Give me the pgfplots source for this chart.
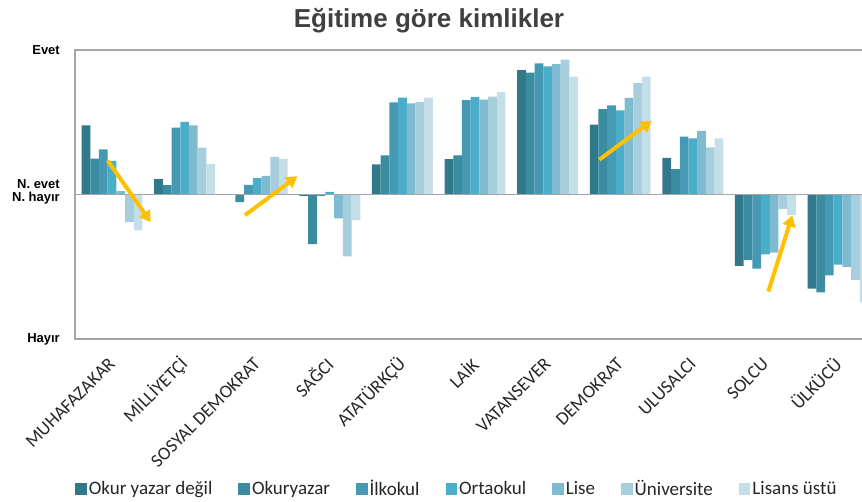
\documentclass[border=0pt]{standalone}
\usepackage{fontspec}
\setmainfont{Carlito}
\newfontfamily\lsans{Liberation Sans}
\usepackage{pgfplots}
\pgfplotsset{compat=1.18}
\usepackage{pgfplotstable}
\usetikzlibrary{arrows.meta}

\definecolor{c1}{HTML}{31788B}
\definecolor{c2}{HTML}{3B8BA1}
\definecolor{c3}{HTML}{4599B3}
\definecolor{c4}{HTML}{4BAEC8}
\definecolor{c5}{HTML}{7FBBD0}
\definecolor{c6}{HTML}{A6CEDD}
\definecolor{c7}{HTML}{C5DFE9}
\definecolor{axisgray}{HTML}{A6A6A6}
\definecolor{titlegray}{HTML}{404040}
\definecolor{txt}{HTML}{262626}
\definecolor{arrowc}{HTML}{FFC000}

% category index, then the seven education groups
\pgfplotstableread{
x  a      b      c      d      e      f      g
0  0.478  0.248  0.313  0.232  0.023  -0.191 -0.248
1  0.106  0.064  0.462  0.503  0.478  0.324  0.212
2  0.000  -0.053 0.067  0.113  0.129  0.260  0.248
3  -0.010 -0.343 -0.010 0.018  -0.166 -0.428 -0.177
4  0.209  0.271  0.637  0.671  0.630  0.639  0.671
5  0.244  0.271  0.653  0.676  0.657  0.678  0.708
6  0.860  0.844  0.908  0.887  0.903  0.933  0.816
7  0.483  0.591  0.616  0.582  0.669  0.770  0.816
8  0.253  0.175  0.400  0.388  0.441  0.326  0.388
9  -0.494 -0.453 -0.513 -0.414 -0.402 -0.099 -0.143
10 -0.651 -0.678 -0.559 -0.485 -0.501 -0.591 -0.747
}\datatable

\begin{document}
\begin{tikzpicture}[x=1pt,y=1pt]
\node[font=\lsans\bfseries\fontsize{26}{26}\selectfont, text=titlegray] at (429,481) {Eğitime göre kimlikler};
\begin{axis}[
  at={(75pt,163pt)}, anchor=south west,
  width=787pt, height=289pt, scale only axis,
  xmin=-0.51, xmax=10.33, ymin=-1, ymax=1,
  clip=false,
  axis line style={draw=none},
  ybar=0pt, bar width=8.7pt,
  xtick={0,...,10},
  xticklabels={MUHAFAZAKAR,MİLLİYETÇİ,SOSYAL DEMOKRAT,SAĞCI,ATATÜRKÇÜ,LAİK,VATANSEVER,DEMOKRAT,ULUSALCI,SOLCU,ÜLKÜCÜ},
  xticklabel style={rotate=45, anchor=east, inner sep=0pt, font=\fontsize{18.5}{18.5}\selectfont, text=txt},
  xticklabel shift=22pt,
  ytick={-1,-0.028,0.075,1},
  yticklabels={Hayır,N. hayır,N. evet,Evet},
  yticklabel style={anchor=east, inner sep=0pt, xshift=-15pt, font=\lsans\bfseries\fontsize{13}{13}\selectfont, text=black},
  major tick length=0pt, tick style={draw=none},
  legend columns=7,
  legend cell align=left,
  legend image code/.code={\fill[#1] (0pt,-5.8pt) rectangle (11.6pt,5.8pt);},
  legend style={at={(axis description cs:0,-0.519)}, anchor=west, draw=none, fill=none,
    inner sep=0pt, font=\fontsize{19}{19}\selectfont, text=txt,
    nodes={inner sep=1pt},
    column sep=1pt,
    /tikz/every even column/.append style={column sep=25pt}},
]
\addplot[fill=c1, draw=none] table[x=x, y=a] {\datatable};
\addplot[fill=c2, draw=none] table[x=x, y=b] {\datatable};
\addplot[fill=c3, draw=none] table[x=x, y=c] {\datatable};
\addplot[fill=c4, draw=none] table[x=x, y=d] {\datatable};
\addplot[fill=c5, draw=none] table[x=x, y=e] {\datatable};
\addplot[fill=c6, draw=none] table[x=x, y=f] {\datatable};
\addplot[fill=c7, draw=none] table[x=x, y=g] {\datatable};
\legend{Okur yazar değil,Okuryazar,İlkokul,Ortaokul,Lise,Üniversite,Lisans üstü}
% frame: left, top, bottom, and the zero line
\draw[axisgray, line width=1.3pt] (axis cs:10.33,1) -- (axis cs:-0.51,1) -- (axis cs:-0.51,-1) -- (axis cs:10.33,-1);
\draw[axisgray, line width=1.3pt] (axis cs:-0.51,0) -- (axis cs:10.33,0);
% annotation arrows
\draw[arrowc, line width=4pt, -{Triangle[width=13pt,length=11pt]}] (axis cs:-0.059,0.234) -- (axis cs:0.533,-0.191);
\draw[arrowc, line width=4pt, -{Triangle[width=13pt,length=11pt]}] (axis cs:1.832,-0.143) -- (axis cs:2.552,0.126);
\draw[arrowc, line width=4pt, -{Triangle[width=13pt,length=11pt]}] (axis cs:6.712,0.241) -- (axis cs:7.434,0.510);
\draw[arrowc, line width=4pt, -{Triangle[width=13pt,length=11pt]}] (axis cs:9.04,-0.671) -- (axis cs:9.37,-0.145);
\end{axis}
\pgfresetboundingbox
\path[use as bounding box] (0,0) rectangle (862,502);
\end{tikzpicture}
\end{document}
